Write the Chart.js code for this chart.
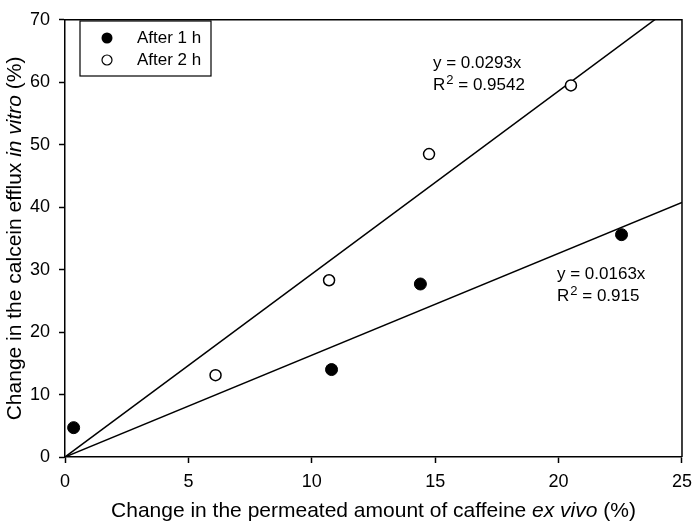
<!DOCTYPE html>
<html>
<head>
<meta charset="utf-8">
<script src="https://cdn.jsdelivr.net/npm/chart.js@4"></script>
<style>
  body { margin: 0; background: #fff; }
  #wrap { width: 700px; height: 527px; position: relative; }
</style>
</head>
<body>
<div id="wrap"><canvas id="myChart"></canvas></div>
<script>
// data
const after1X = [0.35, 10.8, 14.4, 22.55];
const after1Y = [4.7, 14.0, 27.7, 35.6];
const after2X = [6.1, 10.7, 14.75, 20.5];
const after2Y = [13.1, 28.3, 48.5, 59.5];

// regression lines through the origin (slope in plotted units)
const fit1Slope = 1.63;
const fit2Slope = 2.93;
const fitX = [0, 25];

const xTicks = [0, 5, 10, 15, 20, 25];
const yTicks = [0, 10, 20, 30, 40, 50, 60, 70];

const fit1Label = ['y = 0.0163x', '0.915'];
const fit2Label = ['y = 0.0293x', '0.9542'];

const FONT = '"Liberation Sans", Arial, sans-serif';

const toPts = (xs, ys) => xs.map((x, i) => ({ x: x, y: ys[i] }));

const extras = {
  id: 'extras',
  afterDraw(chart) {
    const c = chart.ctx, a = chart.chartArea;
    c.save();
    // frame top/right
    c.strokeStyle = '#000';
    c.lineWidth = 1.5;
    c.beginPath();
    c.moveTo(a.left, a.top);
    c.lineTo(a.right, a.top);
    c.lineTo(a.right, a.bottom);
    c.stroke();

    // legend box
    c.lineWidth = 1.2;
    c.strokeRect(80, 21, 131, 55);
    c.fillStyle = '#000';
    c.beginPath(); c.arc(107, 38, 5.5, 0, Math.PI * 2); c.fill();
    c.fillStyle = '#fff';
    c.beginPath(); c.arc(107, 60, 5, 0, Math.PI * 2); c.fill(); c.stroke();
    c.fillStyle = '#000';
    c.font = '17px ' + FONT;
    c.textBaseline = 'middle';
    c.textAlign = 'left';
    c.fillText('After 1 h', 137, 38);
    c.fillText('After 2 h', 137, 60);

    // equations
    const eq = (lines, x, y1, y2) => {
      c.font = '17px ' + FONT;
      c.fillText(lines[0], x, y1);
      c.fillText('R', x, y2);
      let w = c.measureText('R').width;
      c.font = '13px ' + FONT;
      c.fillText('2', x + w + 1, y2 - 5);
      w += c.measureText('2').width + 1;
      c.font = '17px ' + FONT;
      c.fillText(' = ' + lines[1], x + w, y2);
    };
    eq(fit2Label, 433, 63, 85);
    eq(fit1Label, 557, 274, 296);

    // axis titles with italic parts
    const mixed = (parts, cx, cy, rot) => {
      c.save();
      c.translate(cx, cy);
      c.rotate(rot);
      let total = 0;
      parts.forEach(p => { c.font = (p[1] ? 'italic ' : '') + '21px ' + FONT; total += c.measureText(p[0]).width; });
      let x = -total / 2;
      parts.forEach(p => {
        c.font = (p[1] ? 'italic ' : '') + '21px ' + FONT;
        c.fillText(p[0], x, 0);
        x += c.measureText(p[0]).width;
      });
      c.restore();
    };
    c.textAlign = 'left';
    mixed([['Change in the permeated amount of caffeine ', false], ['ex vivo', true], [' (%)', false]],
      (a.left + a.right) / 2, 511, 0);
    mixed([['Change in the calcein efflux ', false], ['in vitro', true], [' (%)', false]],
      15, (a.top + a.bottom) / 2, -Math.PI / 2);
    c.restore();
  }
};

new Chart(document.getElementById('myChart'), {
  type: 'scatter',
  data: {
    datasets: [
      {
        label: 'After 1 h',
        data: toPts(after1X, after1Y),
        pointRadius: 6,
        pointBackgroundColor: '#000',
        pointBorderColor: '#000',
        pointBorderWidth: 1
      },
      {
        label: 'After 2 h',
        data: toPts(after2X, after2Y),
        pointRadius: 5.5,
        pointBackgroundColor: '#fff',
        pointBorderColor: '#000',
        pointBorderWidth: 1.5
      },
      {
        label: 'fit 1',
        data: toPts(fitX, fitX.map(x => x * fit1Slope)),
        showLine: true,
        pointRadius: 0,
        borderColor: '#000',
        borderWidth: 1.5,
        order: 3
      },
      {
        label: 'fit 2',
        data: toPts(fitX, fitX.map(x => x * fit2Slope)),
        showLine: true,
        pointRadius: 0,
        borderColor: '#000',
        borderWidth: 1.5,
        order: 3
      }
    ]
  },
  options: {
    responsive: true,
    maintainAspectRatio: false,
    animation: false,
    layout: { padding: { top: 9, right: 13, left: 0, bottom: 0 } },
    plugins: { legend: { display: false }, tooltip: { enabled: false } },
    scales: {
      x: {
        type: 'linear',
        min: 0, max: 25,
        afterBuildTicks: s => { s.ticks = xTicks.map(v => ({ value: v })); },
        afterFit: s => { s.height = 70; },
        ticks: { color: '#000', font: { family: FONT, size: 18 }, padding: 8, maxRotation: 0 },
        grid: { drawOnChartArea: false, drawTicks: true, tickLength: 6, color: '#000', tickWidth: 1.5 },
        border: { color: '#000', width: 1.5 }
      },
      y: {
        type: 'linear',
        min: 0, max: 70,
        afterBuildTicks: s => { s.ticks = yTicks.map(v => ({ value: v })); },
        afterFit: s => { s.width = 65; },
        ticks: { color: '#000', font: { family: FONT, size: 18 }, padding: 9 },
        grid: { drawOnChartArea: false, drawTicks: true, tickLength: 6, color: '#000', tickWidth: 1.5 },
        border: { color: '#000', width: 1.5 }
      }
    }
  },
  plugins: [extras]
});
</script>
</body>
</html>
